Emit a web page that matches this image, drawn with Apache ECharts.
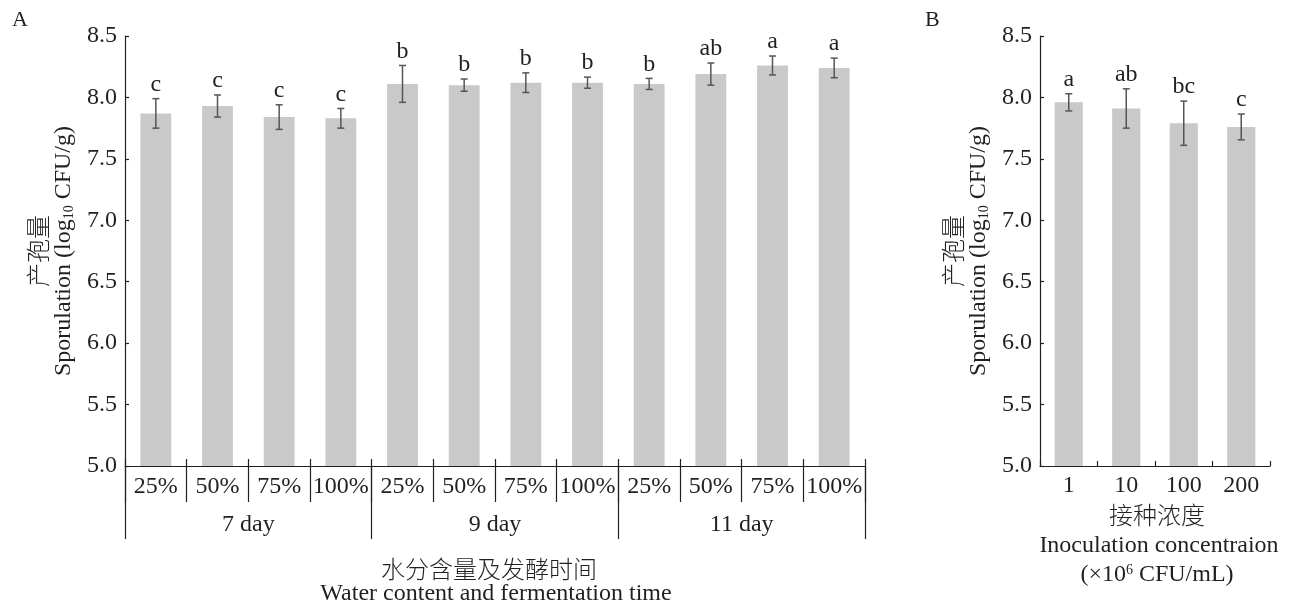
<!DOCTYPE html>
<html>
<head>
<meta charset="utf-8">
<script src="https://cdn.jsdelivr.net/npm/echarts@6/dist/echarts.min.js"></script>
<style>html,body{margin:0;padding:0;background:#fff}#c{width:1291px;height:609px}</style>
</head>
<body>
<div id="c"></div>
<script>
// ---- Data (panel A) ----
const catsA = ['25%','50%','75%','100%','25%','50%','75%','100%','25%','50%','75%','100%'];
const groupsA = ['7 day','9 day','11 day'];
const meanA = [7.87, 7.93, 7.84, 7.83, 8.11, 8.10, 8.12, 8.12, 8.11, 8.19, 8.26, 8.24];
const errA  = [0.12, 0.09, 0.10, 0.08, 0.15, 0.05, 0.08, 0.045, 0.045, 0.09, 0.077, 0.08];
const letA  = ['c','c','c','c','b','b','b','b','b','ab','a','a'];
// ---- Data (panel B) ----
const catsB = ['1','10','100','200'];
const meanB = [7.96, 7.91, 7.79, 7.76];
const errB  = [0.07, 0.16, 0.18, 0.105];
const letB  = ['a','ab','bc','c'];
// ---- Axis ticks ----
const yMin = 5.0, yMax = 8.5, yStep = 0.5;

const FONT = '"Liberation Serif", "Times New Roman", "Noto Sans CJK SC", serif';
const CJK = '"Noto Sans CJK SC", sans-serif';
const TXT = '#231f20';
const AX = '#231f20';
const FS = 24;

function errSeries(xIdx, yIdx, means, errs, letters) {
  return {
    type: 'custom',
    xAxisIndex: xIdx, yAxisIndex: yIdx,
    z: 5,
    data: means.map((m, i) => [i, m, errs[i]]),
    renderItem: function (params, api) {
      const x = api.value(0), m = api.value(1), e = api.value(2);
      const t = api.coord([x, m + e]);
      const b = api.coord([x, m - e]);
      const cap = 3.5;
      const st = { stroke: '#555', lineWidth: 1.5 };
      return {
        type: 'group',
        children: [
          { type: 'line', shape: { x1: t[0], y1: t[1], x2: b[0], y2: b[1] }, style: st },
          { type: 'line', shape: { x1: t[0] - cap, y1: t[1], x2: t[0] + cap, y2: t[1] }, style: st },
          { type: 'line', shape: { x1: b[0] - cap, y1: b[1], x2: b[0] + cap, y2: b[1] }, style: st },
          { type: 'text', style: { text: letters[params.dataIndex], x: t[0], y: t[1] - 2,
              textAlign: 'center', textVerticalAlign: 'bottom', font: FS + 'px ' + FONT, fill: TXT } }
        ]
      };
    }
  };
}

const yAxisCommon = {
  type: 'value', min: yMin, max: yMax, interval: yStep,
  axisLine: { show: true, lineStyle: { color: AX, width: 1.2 } },
  axisTick: { show: true, inside: true, length: 4, lineStyle: { color: AX, width: 1.2 } },
  splitLine: { show: false },
  axisLabel: { color: TXT, fontFamily: FONT, fontSize: FS, margin: 8, formatter: v => v.toFixed(1) }
};

const subRich = { sub: { fontSize: 14, fontFamily: FONT, verticalAlign: 'bottom', padding: [9, 0, 0, 0] } };

const chart = echarts.init(document.getElementById('c'), null, { renderer: 'canvas' });
chart.setOption({
  backgroundColor: '#fff',
  animation: false,
  grid: [
    { left: 125, top: 36, width: 740, height: 430 },
    { left: 1040, top: 36, width: 230, height: 430 }
  ],
  xAxis: [
    { type: 'category', gridIndex: 0, data: catsA, position: 'bottom',
      axisLine: { show: true, lineStyle: { color: AX, width: 1.2 } },
      axisTick: { show: true, length: 36, lineStyle: { color: AX, width: 1.2 } },
      axisLabel: { color: TXT, fontFamily: FONT, fontSize: FS, margin: 9, interval: 0 } },
    { type: 'category', gridIndex: 0, data: catsA, position: 'bottom',
      axisLine: { show: false },
      axisTick: { show: true, inside: true, length: 7, lineStyle: { color: AX, width: 1.2 } },
      axisLabel: { show: false } },
    { type: 'category', gridIndex: 0, data: groupsA, position: 'bottom',
      axisLine: { show: false },
      axisTick: { show: true, length: 73, lineStyle: { color: AX, width: 1.2 } },
      axisLabel: { color: TXT, fontFamily: FONT, fontSize: FS, margin: 47, interval: 0 } },
    { type: 'category', gridIndex: 1, data: catsB, position: 'bottom',
      axisLine: { show: true, lineStyle: { color: AX, width: 1.2 } },
      axisTick: { show: true, inside: true, length: 5, lineStyle: { color: AX, width: 1.2 } },
      axisLabel: { color: TXT, fontFamily: FONT, fontSize: FS, margin: 8, interval: 0 } }
  ],
  yAxis: [
    Object.assign({ gridIndex: 0 }, yAxisCommon),
    Object.assign({ gridIndex: 1 }, yAxisCommon)
  ],
  series: [
    { type: 'bar', xAxisIndex: 0, yAxisIndex: 0, data: meanA, barWidth: '50%',
      itemStyle: { color: '#c9c9c9' } },
    errSeries(0, 0, meanA, errA, letA),
    { type: 'bar', xAxisIndex: 3, yAxisIndex: 1, data: meanB, barWidth: '49%',
      itemStyle: { color: '#c9c9c9' } },
    errSeries(3, 1, meanB, errB, letB)
  ],
  graphic: [
    { type: 'text', left: 12, top: 9, style: { text: 'A', font: '22px ' + FONT, fill: TXT } },
    { type: 'text', left: 925, top: 9, style: { text: 'B', font: '22px ' + FONT, fill: TXT } },
    // Y titles A
    { type: 'text', x: 38, y: 251, rotation: Math.PI / 2,
      style: { text: '产孢量', font: '300 24px ' + CJK, fill: TXT, textAlign: 'center', textVerticalAlign: 'middle' } },
    { type: 'text', x: 64, y: 251, rotation: Math.PI / 2,
      style: { text: 'Sporulation (log{sub|10} CFU/g)', font: FS + 'px ' + FONT, fill: TXT, textAlign: 'center', textVerticalAlign: 'middle', rich: subRich } },
    // Y titles B
    { type: 'text', x: 953, y: 251, rotation: Math.PI / 2,
      style: { text: '产孢量', font: '300 24px ' + CJK, fill: TXT, textAlign: 'center', textVerticalAlign: 'middle' } },
    { type: 'text', x: 979, y: 251, rotation: Math.PI / 2,
      style: { text: 'Sporulation (log{sub|10} CFU/g)', font: FS + 'px ' + FONT, fill: TXT, textAlign: 'center', textVerticalAlign: 'middle', rich: subRich } },
    // X titles A
    { type: 'text', x: 489, y: 569, style: { text: '水分含量及发酵时间', font: '300 24px ' + CJK, fill: TXT, textAlign: 'center', textVerticalAlign: 'middle' } },
    { type: 'text', x: 496, y: 594, style: { text: 'Water content and fermentation time', font: FS + 'px ' + FONT, fill: TXT, textAlign: 'center', textVerticalAlign: 'middle' } },
    // X titles B
    { type: 'text', x: 1157, y: 515, style: { text: '接种浓度', font: '300 24px ' + CJK, fill: TXT, textAlign: 'center', textVerticalAlign: 'middle' } },
    { type: 'text', x: 1159, y: 546, style: { text: 'Inoculation concentraion', font: FS + 'px ' + FONT, fill: TXT, textAlign: 'center', textVerticalAlign: 'middle' } },
    { type: 'text', x: 1157, y: 575, style: { text: '(×10{sup|6} CFU/mL)', font: FS + 'px ' + FONT, fill: TXT, textAlign: 'center', textVerticalAlign: 'middle',
        rich: { sup: { fontSize: 14, fontFamily: FONT, verticalAlign: 'top', padding: [0, 0, 9, 0] } } } }
  ]
});
</script>
</body>
</html>
